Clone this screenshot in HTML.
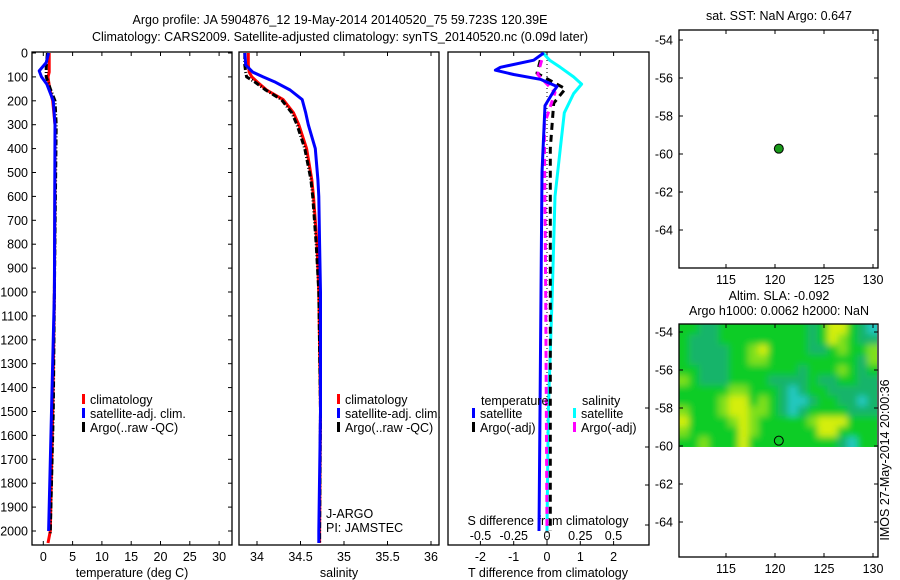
<!DOCTYPE html>
<html><head><meta charset="utf-8"><style>
html,body{margin:0;padding:0;background:#fff}
svg{display:block;font-family:"Liberation Sans",sans-serif}
text{font-size:12.5px;fill:#000}
</style></head><body>
<svg id="c" width="900" height="580" viewBox="0 0 900 580" xmlns="http://www.w3.org/2000/svg">
<defs>
<filter id="bl" filterUnits="userSpaceOnUse" x="660" y="300" width="240" height="170"><feGaussianBlur stdDeviation="3.5"/></filter>
<clipPath id="hmclip"><rect x="679" y="324" width="198" height="123"/></clipPath>
</defs>
<text x="340" y="24" text-anchor="middle">Argo profile: JA 5904876_12 19-May-2014 20140520_75 59.723S 120.39E</text>
<text x="340" y="41" text-anchor="middle">Climatology: CARS2009. Satellite-adjusted climatology: synTS_20140520.nc (0.09d later)</text>
</svg>
<script>
// ---- data ----
const depthTicks=[0,100,200,300,400,500,600,700,800,900,1000,1100,1200,1300,1400,1500,1600,1700,1800,1900,2000];
const tempTicks=[0,5,10,15,20,25,30];
const salTicks=[34,34.5,35,35.5,36];
const tdiffTicks=[-2,-1,0,1,2];
const sdiffTicks=[-0.5,-0.25,0,0.25,0.5];
const sdiffTickLabels=["-0.5","-0.25","0","0.25","0.5"];
const latTicks=[-54,-56,-58,-60,-62,-64];
const lonTicks=[115,120,125,130];

const tClimDepth=[0,50,80,100,150,200,300,500,1000,1500,2000,2050];
const tClim=[1.0,1.0,1.0,0.8,1.1,1.6,2.0,2.0,1.9,1.6,1.2,0.8];
const tSatDepth=[0,40,75,100,130,200,300,1000,1500,2000];
const tSat=[0.9,0.5,-0.7,-0.3,0.6,1.7,2.0,1.9,1.4,0.9];
const tArgoDepth=[0,60,100,150,200,300,1000,1500,2000,2010];
const tArgo=[0.7,0.5,0.5,1.2,2.0,2.2,1.9,1.7,1.2,1.2];

const sDepth=[0,50,80,100,120,155,195,250,300,400,530,600,800,1000,1500,2000,2050];
const sClim=[33.90,33.90,33.91,33.94,34.0,34.11,34.30,34.42,34.48,34.57,34.63,34.65,34.69,34.71,34.73,34.72,34.72];
const sSat=[33.86,33.87,33.95,34.07,34.2,34.38,34.52,34.56,34.59,34.67,34.70,34.71,34.72,34.73,34.73,34.71,34.71];
const sArgo=[33.86,33.86,33.87,33.88,33.97,34.10,34.28,34.40,34.46,34.55,34.62,34.64,34.68,34.71,34.73,34.72,34.72];

const dtSatDepth=[0,30,60,72,90,110,140,160,220,500,1000,2000];
const dtSat=[-0.1,-0.4,-1.4,-1.55,-1.0,-0.2,0.3,0.2,-0.06,-0.15,-0.18,-0.24];
const dsSatDepth=[0,30,60,100,130,170,250,400,600,1000,1500,2000];
const dsSat=[-0.03,0.02,0.1,0.2,0.26,0.2,0.13,0.1,0.06,0.04,0.01,0.0];
const dtArgoDepth=[30,85,150,210,400,1000,2000];
const dtArgo=[-0.2,-0.3,0.55,0.2,0.1,0.1,0.1];
const dsArgoDepth=[30,90,165,300,1000,2000];
const dsArgo=[-0.04,-0.07,0.06,-0.02,-0.01,0.0];

const argoLon=120.39, argoLat=-59.72;
const slaGrid=[
[1,1,0,0,1,1,1,1,1,1,1,1,1,0,1,3,3,1,0,4],
[1,0,0,0,1,1,1,1,1,1,1,1,1,0,1,3,2,1,0,0],
[1,0,0,0,0,1,1,2,3,1,1,1,1,0,0,1,2,1,1,2],
[1,0,0,0,0,1,1,2,2,1,1,1,1,1,1,1,1,1,0,2],
[1,1,0,0,0,1,1,1,1,1,1,1,0,1,1,1,2,1,0,1],
[2,1,0,0,0,1,1,1,1,0,0,0,0,1,0,0,1,1,0,0],
[1,1,1,1,1,2,2,1,1,1,0,4,0,1,1,0,0,0,0,0],
[1,1,1,1,2,3,3,1,2,1,0,4,4,0,1,1,0,0,4,0],
[2,1,1,1,2,3,3,2,2,1,0,4,0,1,1,1,1,0,0,0],
[3,1,1,1,1,2,3,2,1,1,1,1,1,2,3,3,3,1,1,1],
[2,1,1,1,1,1,3,2,1,1,1,1,1,1,3,3,1,1,1,1],
[1,1,2,1,1,1,3,1,1,1,1,1,1,1,1,1,0,4,1,1]];
const slaColors=["#12b46a","#10cc28","#7fe01a","#d4ee08","#22c8c0"];

// ---- helpers ----
const svg=document.getElementById('c');
const NS="http://www.w3.org/2000/svg";
function mk(tag,attrs,parent){const e=document.createElementNS(NS,tag);for(const k in attrs)e.setAttribute(k,attrs[k]);(parent||svg).appendChild(e);return e;}
function txt(x,y,s,anchor,parent){const t=mk('text',{x:x,y:y,'text-anchor':anchor||'middle'},parent);t.textContent=s;return t;}
const yD=d=>53+d*0.239;
const xT=t=>43.3+t*5.86;
const xS=s=>257+(s-34)*87;
const xDT=v=>547+v*33.3;
const xDS=v=>547+v*133;
const yLatTop=l=>40+(-54-l)*19;
const yLatBot=l=>332+(-54-l)*19;
const xLon=l=>726+(l-115)*9.8;

function frame(x0,y0,x1,y1,name){
  const r=mk('rect',{x:x0,y:y0,width:x1-x0,height:y1-y0,fill:'none',stroke:'#000','stroke-width':1.3});
  
  
}
function line(xs,ds,fx,color,dash,name){
  let p='';for(let i=0;i<xs.length;i++)p+=(i?'L':'M')+fx(xs[i]).toFixed(1)+','+yD(ds[i]).toFixed(1);
  const e=mk('path',{d:p,fill:'none',stroke:color,'stroke-width':3,'stroke-linejoin':'round'});
  if(dash)e.setAttribute('stroke-dasharray',dash);
  
  
}
function xticks(ticks,labels,fx,y0,y1,ly,name){
  const g=mk('g',{});
  
  
  ticks.forEach((t,i)=>{const x=fx(t);
    mk('line',{x1:x,x2:x,y1:y1,y2:y1-4,stroke:'#000'},g);
    mk('line',{x1:x,x2:x,y1:y0,y2:y0+4,stroke:'#000'},g);
    txt(x,ly,labels?labels[i]:String(t),'middle',g);});
}
function legend(x,y,items,name){
  const g=mk('g',{});
  
  
  items.forEach((it,i)=>{mk('rect',{x:x,y:y+i*14-10,width:3,height:10,fill:it[0]},g);txt(x+8,y+i*14,it[1],'start',g);});
}

// ---- panel 1: temperature ----
frame(32,52,232,545,'temperature-panel');
const dg=mk('g',{});


depthTicks.forEach(d=>{const y=yD(d);mk('line',{x1:32,x2:36,y1:y,y2:y,stroke:'#000'},dg);mk('line',{x1:232,x2:228,y1:y,y2:y,stroke:'#000'},dg);txt(28,y+4.5,String(d),'end',dg);});
xticks(tempTicks,null,xT,52,545,561,'temperature-x-axis');
txt(132,577,'temperature (deg C)');
line(tClim,tClimDepth,xT,'#f00',null,'temp-climatology-line');
line(tArgo,tArgoDepth,xT,'#000','6,2,1,2','temp-argo-line');
line(tSat,tSatDepth,xT,'#00f',null,'temp-satellite-line');
legend(82,404,[['#f00','climatology'],['#00f','satellite-adj. clim.'],['#000','Argo(..raw -QC)']],'temperature-legend');

// ---- panel 2: salinity ----
frame(239,52,439,545,'salinity-panel');
xticks(salTicks,null,xS,52,545,561,'salinity-x-axis');
txt(339,577,'salinity');
line(sClim,sDepth,xS,'#f00',null,'sal-climatology-line');
line(sArgo,sDepth,xS,'#000','6,2,1,2','sal-argo-line');
line(sSat,sDepth,xS,'#00f',null,'sal-satellite-line');
legend(337,404,[['#f00','climatology'],['#00f','satellite-adj. clim.'],['#000','Argo(..raw -QC)']],'salinity-legend');
txt(326,518,'J-ARGO','start');
txt(326,532,'PI: JAMSTEC','start');

// ---- panel 3: differences ----
frame(448,52,649,545,'difference-panel');
xticks(tdiffTicks,null,xDT,52,545,561,'tdiff-x-axis');
txt(548,577,'T difference from climatology');
const sg=mk('g',{});


sdiffTicks.forEach((t,i)=>txt(xDS(t),540,sdiffTickLabels[i],'middle',sg));
txt(548,525,'S difference from climatology','middle',sg);
[408,447,485,525].forEach(y=>mk('line',{x1:649,x2:645,y1:y,y2:y,stroke:'#000'},sg));
const zl=mk('line',{x1:547,x2:547,y1:52,y2:545,stroke:'#000','stroke-dasharray':'1,3'});


line(dsSat,dsSatDepth,xDS,'#0ff',null,'sdiff-satellite-line');
line(dtArgo,dtArgoDepth,xDT,'#000','7,5','tdiff-argo-line');
line(dsArgo,dsArgoDepth,xDS,'#f0f','7,5','sdiff-argo-line');
line(dtSat,dtSatDepth,xDT,'#00f',null,'tdiff-satellite-line');
const lg=mk('g',{});


txt(481,405,'temperature','start',lg);txt(582,405,'salinity','start',lg);
legend(472,418,[['#00f','satellite'],['#000','Argo(-adj)']],'difference-legend-temperature');
legend(573,418,[['#0ff','satellite'],['#f0f','Argo(-adj)']],'difference-legend-salinity');

// ---- map panels ----
function mapAxes(y0,y1,fy,name){
  frame(679,y0,878,y1,name);
  const g=mk('g',{});
  
  
  latTicks.forEach(l=>{const y=fy(l);mk('line',{x1:679,x2:683,y1:y,y2:y,stroke:'#000'},g);mk('line',{x1:878,x2:874,y1:y,y2:y,stroke:'#000'},g);txt(673,y+4.5,String(l),'end',g);});
  lonTicks.forEach(l=>{const x=xLon(l);mk('line',{x1:x,x2:x,y1:y1,y2:y1-4,stroke:'#000'},g);mk('line',{x1:x,x2:x,y1:y0,y2:y0+4,stroke:'#000'},g);txt(x,y1+16,String(l),'middle',g);});
}
mapAxes(30,268,yLatTop,'sst-map');
txt(779,20,'sat. SST: NaN Argo: 0.647');
const d1=mk('circle',{cx:xLon(argoLon),cy:yLatTop(argoLat),r:4.5,fill:'#1a9a1a',stroke:'#000','stroke-width':1});



const hm=mk('g',{'clip-path':'url(#hmclip)'});


const hb=mk('g',{filter:'url(#bl)'},hm);
const cw=198/slaGrid[0].length, ch=123/slaGrid.length;
slaGrid.forEach((row,r)=>row.forEach((v,c)=>{
  const cell=mk('rect',{x:679+c*cw-6*(c==0),y:324+r*ch-6*(r==0),width:cw+0.5+6*(c==0)+6*(c==row.length-1),height:ch+0.5+6*(r==0)+6*(r==slaGrid.length-1),fill:slaColors[v]},hb);
  
  
}));
mapAxes(324,557,yLatBot,'sla-map');
txt(779,300,'Altim. SLA: -0.092');
txt(779,315,'Argo h1000: 0.0062 h2000: NaN');
const d2=mk('circle',{cx:xLon(argoLon),cy:yLatBot(argoLat),r:4.5,fill:'none',stroke:'#000','stroke-width':1});


const vt=txt(0,0,'IMOS 27-May-2014 20:00:36','middle');
vt.setAttribute('transform','translate(889,460) rotate(-90)');


</script>
</body></html>
